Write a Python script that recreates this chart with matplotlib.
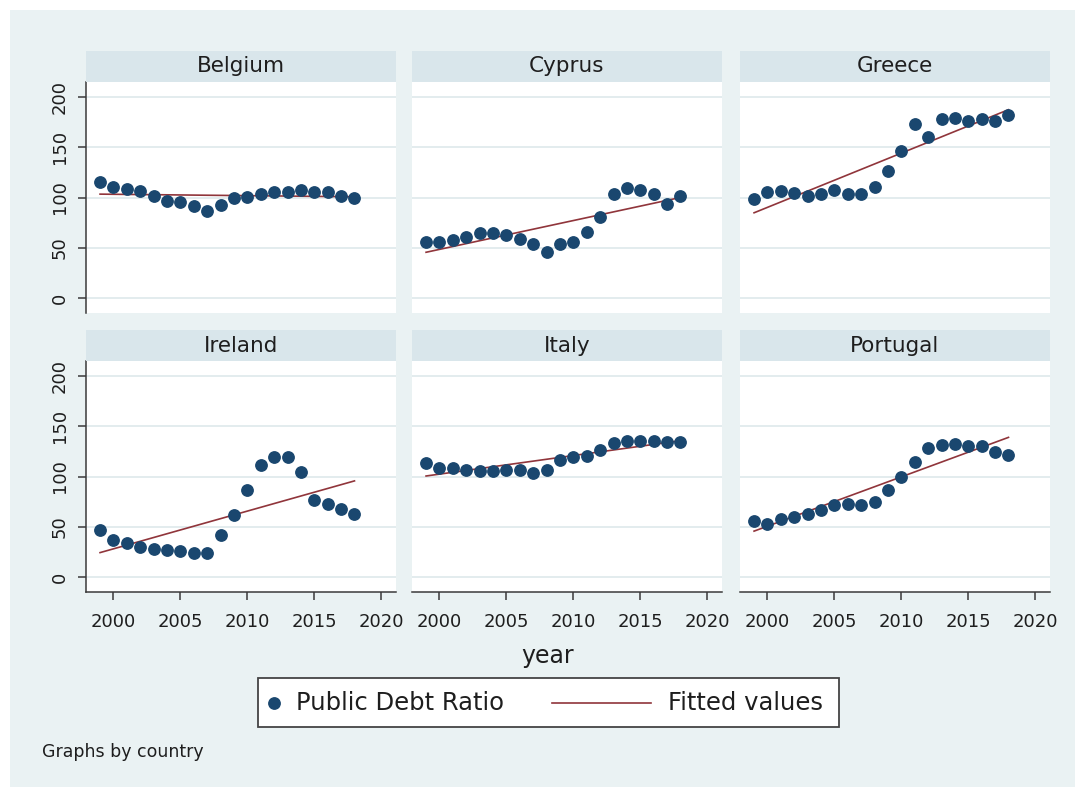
import matplotlib
matplotlib.use('Agg')
import matplotlib.pyplot as plt
import numpy as np
from matplotlib.patches import Rectangle

plt.rcParams['font.family'] = ['DejaVu Sans']

# public debt, % of GDP, 1999-2018
years = np.arange(1999, 2019)
countries = ['Belgium', 'Cyprus', 'Greece', 'Ireland', 'Italy', 'Portugal']

belgium = [115.5, 110.2, 108.9, 106.0, 101.5, 97.0, 95.5, 91.4, 87.0, 93.0,
           100.0, 100.3, 103.6, 105.6, 105.9, 107.0, 105.5, 105.2, 101.8, 99.9]
cyprus = [55.5, 55.7, 57.6, 61.0, 64.8, 65.0, 63.3, 59.3, 54.0, 46.1,
          54.3, 56.1, 65.8, 80.6, 103.6, 109.3, 107.6, 103.0, 93.8, 101.0]
greece = [98.9, 105.3, 106.9, 104.6, 101.3, 103.0, 107.6, 103.6, 103.4, 110.2,
          126.6, 146.4, 172.5, 160.2, 177.6, 179.0, 176.0, 178.3, 176.0, 181.5]
ireland = [47.0, 36.8, 33.9, 30.3, 28.6, 27.6, 25.7, 23.7, 23.7, 42.1,
           61.5, 86.2, 111.2, 119.7, 119.7, 104.3, 76.3, 73.0, 67.4, 63.2]
italy = [113.5, 108.6, 108.6, 106.3, 105.3, 105.3, 106.9, 106.3, 103.0, 106.3,
         116.8, 119.1, 120.1, 126.6, 133.2, 135.5, 135.5, 134.9, 134.2, 134.2]
portugal = [55.9, 53.3, 57.6, 59.9, 63.2, 66.4, 71.7, 73.0, 72.2, 74.8,
            86.2, 99.3, 114.1, 128.0, 131.2, 132.2, 130.6, 130.6, 124.7, 121.4]

series = [belgium, cyprus, greece, ireland, italy, portugal]

yticks = [0, 50, 100, 150, 200]
xticks = [2000, 2005, 2010, 2015, 2020]

bg = '#EAF2F3'
strip_color = '#D9E6EB'
grid_color = '#E1EAED'
navy = '#1A476F'
maroon = '#90353B'
axis_color = '#3a3a3a'
text_color = '#1e1e1e'

W, H = 1075, 787


def rect(x, y, w, h):
    # pixel box (top-left origin) -> figure fraction
    return [x / W, 1 - (y + h) / H, w / W, h / H]


fig = plt.figure(figsize=(W / 100, H / 100), dpi=100, facecolor=bg)
fig.patches.append(Rectangle((0, 1 - 10 / H), 1, 10 / H, transform=fig.transFigure,
                             facecolor='white', edgecolor='none', zorder=-1))
fig.patches.append(Rectangle((0, 0), 10 / W, 1, transform=fig.transFigure,
                             facecolor='white', edgecolor='none', zorder=-1))

col_left = [86, 412, 740]
panel_w = 310
row_top = [82, 361]
panel_h = 231
strip_h = 31

for i, (name, vals) in enumerate(zip(countries, series)):
    r, c = divmod(i, 3)
    x0, y0 = col_left[c], row_top[r]

    ax = fig.add_axes(rect(x0, y0, panel_w, panel_h))
    ax.set_facecolor('white')
    ax.set_xlim(1997.95, 2021.1)
    ax.set_ylim(-14.5, 214.5)
    ax.set_yticks(yticks)
    ax.set_xticks(xticks)
    ax.yaxis.grid(True, color=grid_color, lw=1.3)
    ax.set_axisbelow(True)

    # linear fit per country
    vals = np.array(vals)
    slope, icpt = np.polyfit(years, vals, 1)
    ax.plot(years, slope * years + icpt, color=maroon, lw=1.2, zorder=2)
    ax.plot(years, vals, 'o', color=navy, ms=8.2, mec=navy, zorder=3)

    for s in ['top', 'right']:
        ax.spines[s].set_visible(False)
    ax.spines['left'].set_visible(c == 0)
    ax.spines['bottom'].set_visible(r == 1)
    for s in ['left', 'bottom']:
        ax.spines[s].set_color(axis_color)
        ax.spines[s].set_linewidth(1.1)

    ax.tick_params(axis='y', length=6, width=1.1, color=axis_color, pad=6.5,
                   labelsize=13, labelcolor=text_color, left=(c == 0), labelleft=(c == 0))
    ax.tick_params(axis='x', length=6, width=1.1, color=axis_color, pad=9,
                   labelsize=13, labelcolor=text_color, bottom=(r == 1), labelbottom=(r == 1))
    if c == 0:
        plt.setp(ax.get_yticklabels(), rotation=90, va='center')

    sax = fig.add_axes(rect(x0, y0 - strip_h, panel_w, strip_h))
    sax.set_facecolor(strip_color)
    sax.set_xticks([])
    sax.set_yticks([])
    for s in sax.spines.values():
        s.set_visible(False)
    sax.text(0.5, 0.5, name, ha='center', va='center', fontsize=15.5,
             color=text_color, transform=sax.transAxes)

fig.text(548 / W, 1 - 656 / H, 'year', ha='center', va='center', fontsize=17, color=text_color)

# legend box
lax = fig.add_axes(rect(257, 677, 583, 51))
lax.set_xlim(0, 583)
lax.set_ylim(51, 0)
lax.axis('off')
lax.add_patch(Rectangle((1, 1), 581, 49, facecolor='white', edgecolor='#444444', lw=1.3))
lax.plot([17], [25.5], 'o', color=navy, ms=8.2)
lax.text(39, 26, 'Public Debt Ratio', ha='left', va='center', fontsize=17.5, color=text_color)
lax.plot([295, 394], [25.5, 25.5], color=maroon, lw=1.2)
lax.text(411, 26, 'Fitted values', ha='left', va='center', fontsize=17.5, color=text_color)

fig.text(42 / W, 1 - 752 / H, 'Graphs by country', ha='left', va='center',
         fontsize=12.5, color=text_color)

fig.savefig('out.png', dpi=100, facecolor=fig.get_facecolor())
